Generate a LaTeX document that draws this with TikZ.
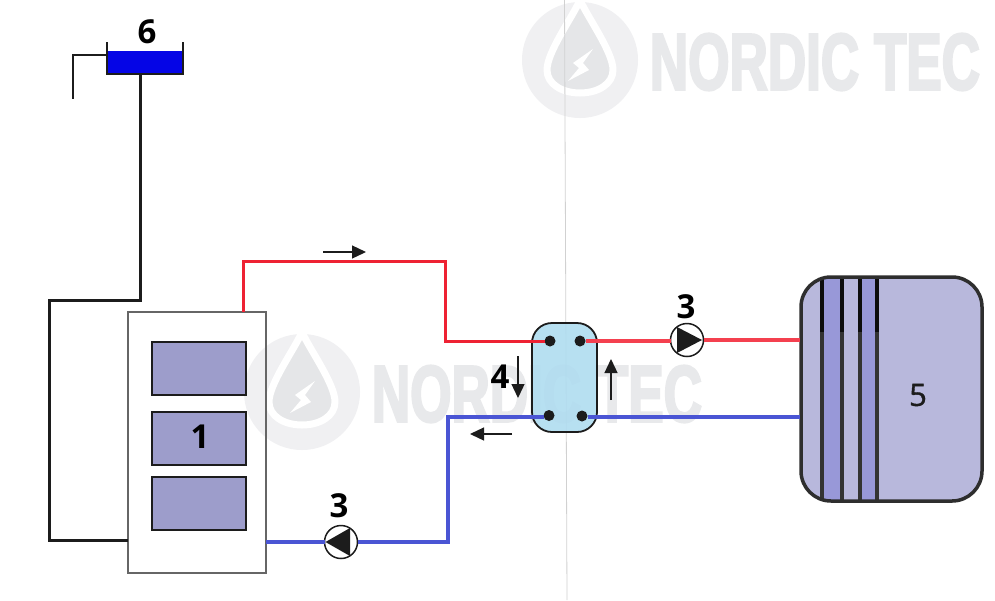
\documentclass[tikz,border=0pt]{standalone}
\usepackage{fontspec}
\setmainfont{Open Sans}
\newfontfamily\wmfont[FakeBold=3,FakeStretch=0.8]{Liberation Sans Bold}
\newfontfamily\semifont[FakeBold=1.2]{Open Sans}
\usetikzlibrary{arrows.meta,calc}
\definecolor{wmA}{HTML}{F0F0F2}
\definecolor{wmB}{HTML}{E5E6E8}
\definecolor{wmT}{HTML}{E8E9EB}
\definecolor{pipeRed}{HTML}{EE2233}
\definecolor{pipeRedB}{HTML}{F4404F}
\definecolor{pipeBlue}{HTML}{4A55D4}
\definecolor{tankLight}{HTML}{B8B8DC}
\definecolor{tankDark}{HTML}{9898D8}
\definecolor{panel}{HTML}{9D9DCB}
\definecolor{hxFill}{HTML}{AEDCF0}
\definecolor{water}{HTML}{0505E6}
\definecolor{ink}{HTML}{1C1C1C}
\tikzset{
  box/.style={draw,outer sep=0pt,inner sep=0pt},
  panelbox/.style={box,fill=panel,line width=2pt,draw=ink,minimum width=94pt,minimum height=53pt},
  pumpbody/.style={circle,draw=ink,fill=white,line width=1.5pt,minimum size=33pt,inner sep=0pt,outer sep=0pt},
  port/.style={circle,fill=ink,minimum size=11pt,inner sep=0pt,outer sep=0pt},
  num/.style={font=\fontsize{33}{33}\selectfont\bfseries,text=black,inner sep=0pt},
  flow/.style={line width=1.3pt,draw=ink,-{Triangle[length=14pt,width=13pt]}},
  blackpipe/.style={line width=3pt,draw=ink,line join=miter},
  redpipe/.style={line width=3pt,draw=pipeRed},
  redpipeb/.style={line width=4.5pt,draw=pipeRedB},
  bluepipe/.style={line width=3.5pt,draw=pipeBlue},
  wmtext/.style={text=wmT,inner sep=0pt,outer sep=0pt},
  pics/mark/.style={code={
    \fill[wmA] (0,0) circle (58);
    \draw[white,line width=7pt,fill=wmB,line join=round]
      (0,-60) .. controls (-8,-42) and (-33,-8) .. (-33,10)
      .. controls (-33,24) and (-18,33) .. (0,33)
      .. controls (18,33) and (33,24) .. (33,10)
      .. controls (33,-8) and (8,-42) .. cycle;
    \fill[white] (13,-11) -- (-7,3) -- (-1,8) -- (-12,21) -- (9,10) -- (3,3) -- cycle;
  }}
}
\newcommand{\wmword}{\resizebox{330pt}{56pt}{\wmfont NORDIC TEC}}
\begin{document}
\begin{tikzpicture}[x=1pt,y=-1pt]
\useasboundingbox (0,0) rectangle (995,600);
\fill[white] (0,0) rectangle (995,600);
% watermarks
\begin{scope}
\clip (0,0) rectangle (995,600);
\pic at (580,60) {mark};
\pic at (302,392) {mark};
\end{scope}
\node[wmtext,anchor=center] (wmtop) at (815,62) {\wmword};
\node[wmtext,anchor=center] (wmmid) at (537,394) {\wmword};
\coordinate (seamA) at (564.5,0);
\coordinate (seamB) at (567,600);
\draw[line width=0.8pt,draw=black!18] (seamA) -- (seamB);

% expansion vessel 6
\node[box,draw=none,fill=water,minimum width=75pt,minimum height=22pt] (water) at (145.5,62) {};
\coordinate (wallL) at (107,42);
\coordinate (wallLb) at (107,74);
\coordinate (wallRb) at (183,74);
\coordinate (wallR) at (183,42);
\draw[blackpipe,line width=1.8pt] (wallL) -- (wallLb) -- (wallRb) -- (wallR);
\node[num] (n6) at (147,32) {6};
\coordinate (ventA) at (107,55);
\coordinate (ventB) at (73,55);
\coordinate (ventC) at (73,99);
\draw[line width=1.5pt,draw=ink] (ventA) -- (ventB) -- (ventC);

% boiler 1
\node[box,draw=black!60,line width=1.2pt,minimum width=138pt,minimum height=261pt] (boiler) at (197,442.5) {};
\node[panelbox] (p1) at (199,368.5) {};
\node[panelbox] (p2) at (199,438) {};
\node[panelbox] (p3) at (199,503) {};
\node[num] (n1) at (200,437) {1};

% expansion line
\coordinate (vesselOut) at (140,74);
\coordinate (e1) at (140,300);
\coordinate (e2) at (49,300);
\coordinate (e3) at (49,540);
\coordinate (e4) at (128,540);
\draw[blackpipe] (vesselOut) -- (e1) -- (e2) -- (e3) -- (e4);

% heat exchanger 4
\node[box,draw=ink,line width=1.8pt,fill=hxFill,fill opacity=0.88,rounded corners=20pt,minimum width=65pt,minimum height=109pt] (hx) at (564.5,377.5) {};
\node[port] (pa) at (550,341) {};
\node[port] (pb) at (580,341) {};
\node[port] (pc) at (549,415.5) {};
\node[port] (pd) at (582,416) {};

% tank 5
\node[box,draw=none,fill=tankLight,rounded corners=30pt,minimum width=181pt,minimum height=224pt] (tank) at (891.5,389) {};
\begin{scope}
\clip[rounded corners=30pt] (tank.north west) rectangle (tank.south east);
\fill[tankDark] (822,277) rectangle (842,501);
\fill[tankDark] (860,277) rectangle (877,501);
\foreach \lx in {822,842,860,877} {
  \draw[line width=3.2pt,draw=black!80] (\lx,277) -- (\lx,501);
  \draw[line width=3.2pt,draw=black!95] (\lx,277) -- (\lx,332);
}
\end{scope}
\node[box,draw=black!82,line width=3.5pt,rounded corners=30pt,minimum width=181pt,minimum height=224pt] (tankedge) at (891.5,389) {};
\node[font=\fontsize{31}{31}\selectfont\semifont,text=ink,inner sep=0pt] (n5) at (918,395) {5};

% pumps
\node[pumpbody] (pump1) at (341,542) {};
\fill[ink] (325.5,542) -- (350,528) -- (350,556) -- cycle;
\node[pumpbody] (pump2) at (687,340) {};
\fill[ink] (677,327) -- (702,340) -- (677,353) -- cycle;

% pipes
\coordinate (r0) at (243,312);
\coordinate (r1) at (243,261);
\coordinate (r2) at (445,261);
\coordinate (r3) at (445,341);
\draw[redpipe] (r0) -- (r1) -- (r2) -- (r3) -- (pa.west);
\draw[redpipeb] (pb.east) -- (pb.east -| pump2.west);
\draw[redpipeb] (pump2.east) -- (800,340);
\coordinate (b0) at (266,542);
\coordinate (b1) at (448,542);
\coordinate (b2) at (448,417);
\coordinate (b3) at (800,417);
\draw[bluepipe,line width=3.2pt] (b0) -- (pump1.west);
\draw[bluepipe] (pump1.east) -- (b1) -- (b2) -- (pc.west |- b2);
\draw[bluepipe] (pd.east |- b3) -- (b3);

% flow arrows
\coordinate (fa1) at (323,252); \coordinate (fa2) at (366,252);
\draw[flow] (fa1) -- (fa2);
\coordinate (fb1) at (518,356); \coordinate (fb2) at (518,398);
\draw[flow] (fb1) -- (fb2);
\coordinate (fc1) at (611,400); \coordinate (fc2) at (611,359);
\draw[flow] (fc1) -- (fc2);
\coordinate (fd1) at (512,434); \coordinate (fd2) at (470,434);
\draw[flow] (fd1) -- (fd2);

% labels
\node[num] (n3a) at (339,506) {3};
\node[num] (n3b) at (686,307) {3};
\node[num] (n4) at (500,377) {4};
\end{tikzpicture}
\end{document}
